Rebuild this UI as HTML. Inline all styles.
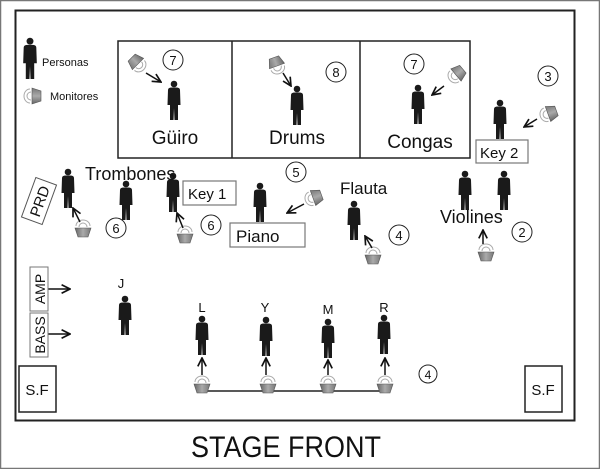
<!DOCTYPE html>
<html><head><meta charset="utf-8"><style>
html,body{margin:0;padding:0;background:#fff;}
svg{display:block;}
text{font-family:"Liberation Sans",sans-serif;fill:#111;}
</style></head><body>
<svg width="600" height="469" viewBox="0 0 600 469" xmlns="http://www.w3.org/2000/svg">
<defs>
<linearGradient id="g" x1="0" x2="1"><stop offset="0" stop-color="#666"/><stop offset="0.5" stop-color="#aaa"/><stop offset="1" stop-color="#777"/></linearGradient>
<g id="p"><circle cx="0" cy="4" r="3.3" fill="#1a1a1a"/><path d="M-6,10 Q-6,7.5 -2,7.5 L2,7.5 Q6,7.5 6,10 L6.5,25 L4,25 L4,40 L0.5,40 L0,28 L-0.5,40 L-4,40 L-4,25 L-6.5,25 Z" fill="#1a1a1a"/></g>
<g id="m"><path d="M-8,0 L8,0 L5,9 L-5,9 Z" fill="url(#g)" stroke="#555" stroke-width="0.6"/><path d="M-4,-1 A4,4 0 0 1 4,-1 M-7,-2 A7,6 0 0 1 7,-2" fill="none" stroke="#aaa" stroke-width="1"/></g>
<marker id="a" viewBox="0 0 10 10" refX="9" refY="5" markerWidth="7" markerHeight="7" orient="auto"><path d="M1,1 L9,5 L1,9" fill="none" stroke="#111" stroke-width="1.6"/></marker>
</defs>
<rect x="0.5" y="0.5" width="599" height="468" fill="#fff" stroke="#777" stroke-width="1.5"/>
<rect x="15" y="10" width="560" height="160" fill="none"/>
<rect x="15.5" y="10.5" width="559" height="410" fill="none" stroke="#222" stroke-width="2"/>
<rect x="118" y="41" width="352" height="117" fill="none" stroke="#222" stroke-width="1.5"/>
<line x1="232" y1="41" x2="232" y2="158" stroke="#222" stroke-width="1.5"/>
<line x1="360" y1="41" x2="360" y2="158" stroke="#222" stroke-width="1.5"/>
<!-- legend -->
<use href="#p" transform="translate(30,37) scale(1.05)"/>
<text x="42" y="66" font-size="11">Personas</text>
<g transform="translate(32,96) rotate(-90)"><use href="#m"/></g>
<text x="50" y="100" font-size="11">Monitores</text>
<!-- persons -->
<use href="#p" x="174" y="80"/>
<use href="#p" x="297" y="85"/>
<use href="#p" x="418" y="84"/>
<use href="#p" x="500" y="99"/>
<use href="#p" x="68" y="168"/>
<use href="#p" x="126" y="180"/>
<use href="#p" x="173" y="172"/>
<use href="#p" x="260" y="182"/>
<use href="#p" x="354" y="200"/>
<use href="#p" x="465" y="170"/>
<use href="#p" x="504" y="170"/>
<use href="#p" x="125" y="295"/>
<use href="#p" x="202" y="315"/>
<use href="#p" x="266" y="316"/>
<use href="#p" x="328" y="318"/>
<use href="#p" x="384" y="314"/>
<!-- monitors -->
<g transform="translate(138,64) rotate(135)"><use href="#m"/></g>
<g transform="translate(277,66) rotate(160)"><use href="#m"/></g>
<g transform="translate(456,75) rotate(-130)"><use href="#m"/></g>
<g transform="translate(548,114) rotate(-110)"><use href="#m"/></g>
<g transform="translate(313,198) rotate(-110)"><use href="#m"/></g>
<g transform="translate(83,228) rotate(0)"><use href="#m"/></g>
<g transform="translate(185,234) rotate(0)"><use href="#m"/></g>
<g transform="translate(373,255) rotate(0)"><use href="#m"/></g>
<g transform="translate(486,252) rotate(0)"><use href="#m"/></g>
<line x1="202" y1="391" x2="385" y2="391" stroke="#222" stroke-width="1.5"/>
<g transform="translate(202,384)"><use href="#m"/></g>
<g transform="translate(268,384)"><use href="#m"/></g>
<g transform="translate(328,384)"><use href="#m"/></g>
<g transform="translate(385,384)"><use href="#m"/></g>
<!-- arrows -->
<g stroke="#111" stroke-width="1.5" fill="none" marker-end="url(#a)">
<line x1="146" y1="73" x2="161" y2="82"/>
<line x1="283" y1="73" x2="291" y2="86"/>
<line x1="444" y1="86" x2="432" y2="95"/>
<line x1="537" y1="119" x2="524" y2="127"/>
<line x1="304" y1="204" x2="287" y2="213"/>
<line x1="80" y1="222" x2="73" y2="208"/>
<line x1="183" y1="228" x2="177" y2="213"/>
<line x1="372" y1="248" x2="365" y2="236"/>
<line x1="483" y1="244" x2="483" y2="230"/>
<line x1="202" y1="375" x2="202" y2="358"/>
<line x1="266" y1="375" x2="266" y2="358"/>
<line x1="328" y1="375" x2="328" y2="360"/>
<line x1="385" y1="375" x2="385" y2="358"/>
<line x1="48" y1="289" x2="70" y2="289"/>
<line x1="48" y1="334" x2="70" y2="334"/>
</g>
<!-- number circles -->
<g fill="none" stroke="#222" stroke-width="1">
<circle cx="173" cy="60" r="10"/><circle cx="336" cy="72" r="10"/><circle cx="414" cy="64" r="10"/>
<circle cx="548" cy="76" r="10"/><circle cx="296" cy="172" r="10"/><circle cx="116" cy="228" r="10"/>
<circle cx="211" cy="225" r="10"/><circle cx="399" cy="235" r="10"/><circle cx="522" cy="232" r="10"/>
<circle cx="428" cy="374" r="9"/>
</g>
<g font-size="13" text-anchor="middle">
<text x="173" y="65">7</text><text x="336" y="77">8</text><text x="414" y="69">7</text>
<text x="548" y="81">3</text><text x="296" y="177">5</text><text x="116" y="233">6</text>
<text x="211" y="230">6</text><text x="399" y="240">4</text><text x="522" y="237">2</text>
<text x="428" y="379" font-size="12">4</text>
</g>
<!-- labels -->
<g font-size="19" text-anchor="middle">
<text x="175" y="144">Güiro</text><text x="297" y="144">Drums</text><text x="420" y="148">Congas</text>
</g>
<text x="85" y="180" font-size="18">Trombones</text>
<text x="340" y="194" font-size="17">Flauta</text>
<text x="440" y="223" font-size="18">Violines</text>
<g fill="#fff" stroke="#777" stroke-width="1.2">
<rect x="476" y="140" width="52" height="23"/><rect x="183" y="181" width="53" height="24"/><rect x="230" y="223" width="75" height="24"/>
</g>
<text x="480" y="158" font-size="15">Key 2</text>
<text x="188" y="199" font-size="15">Key 1</text>
<text x="236" y="242" font-size="17">Piano</text>
<g transform="translate(39,201) rotate(-70)"><rect x="-21" y="-11" width="42" height="22" fill="#fff" stroke="#555"/><text x="0" y="6" font-size="15" text-anchor="middle">PRD</text></g>
<g transform="translate(39,289) rotate(-90)"><rect x="-22" y="-9" width="44" height="18" fill="#fff" stroke="#777"/><text x="0" y="6" font-size="14" text-anchor="middle">AMP</text></g>
<g transform="translate(39,335) rotate(-90)"><rect x="-22" y="-9" width="44" height="18" fill="#fff" stroke="#777"/><text x="0" y="6" font-size="14" text-anchor="middle">BASS</text></g>
<g font-size="13" text-anchor="middle">
<text x="121" y="288">J</text><text x="202" y="312">L</text><text x="265" y="312">Y</text><text x="328" y="314">M</text><text x="384" y="312">R</text>
</g>
<rect x="19" y="366" width="37" height="46" fill="none" stroke="#222" stroke-width="1.5"/>
<rect x="525" y="366" width="37" height="46" fill="none" stroke="#222" stroke-width="1.5"/>
<text x="37" y="395" font-size="15" text-anchor="middle">S.F</text>
<text x="543" y="395" font-size="15" text-anchor="middle">S.F</text>
<text x="286" y="457" font-size="30" text-anchor="middle" textLength="190" lengthAdjust="spacingAndGlyphs">STAGE FRONT</text>
</svg>
</body></html>
